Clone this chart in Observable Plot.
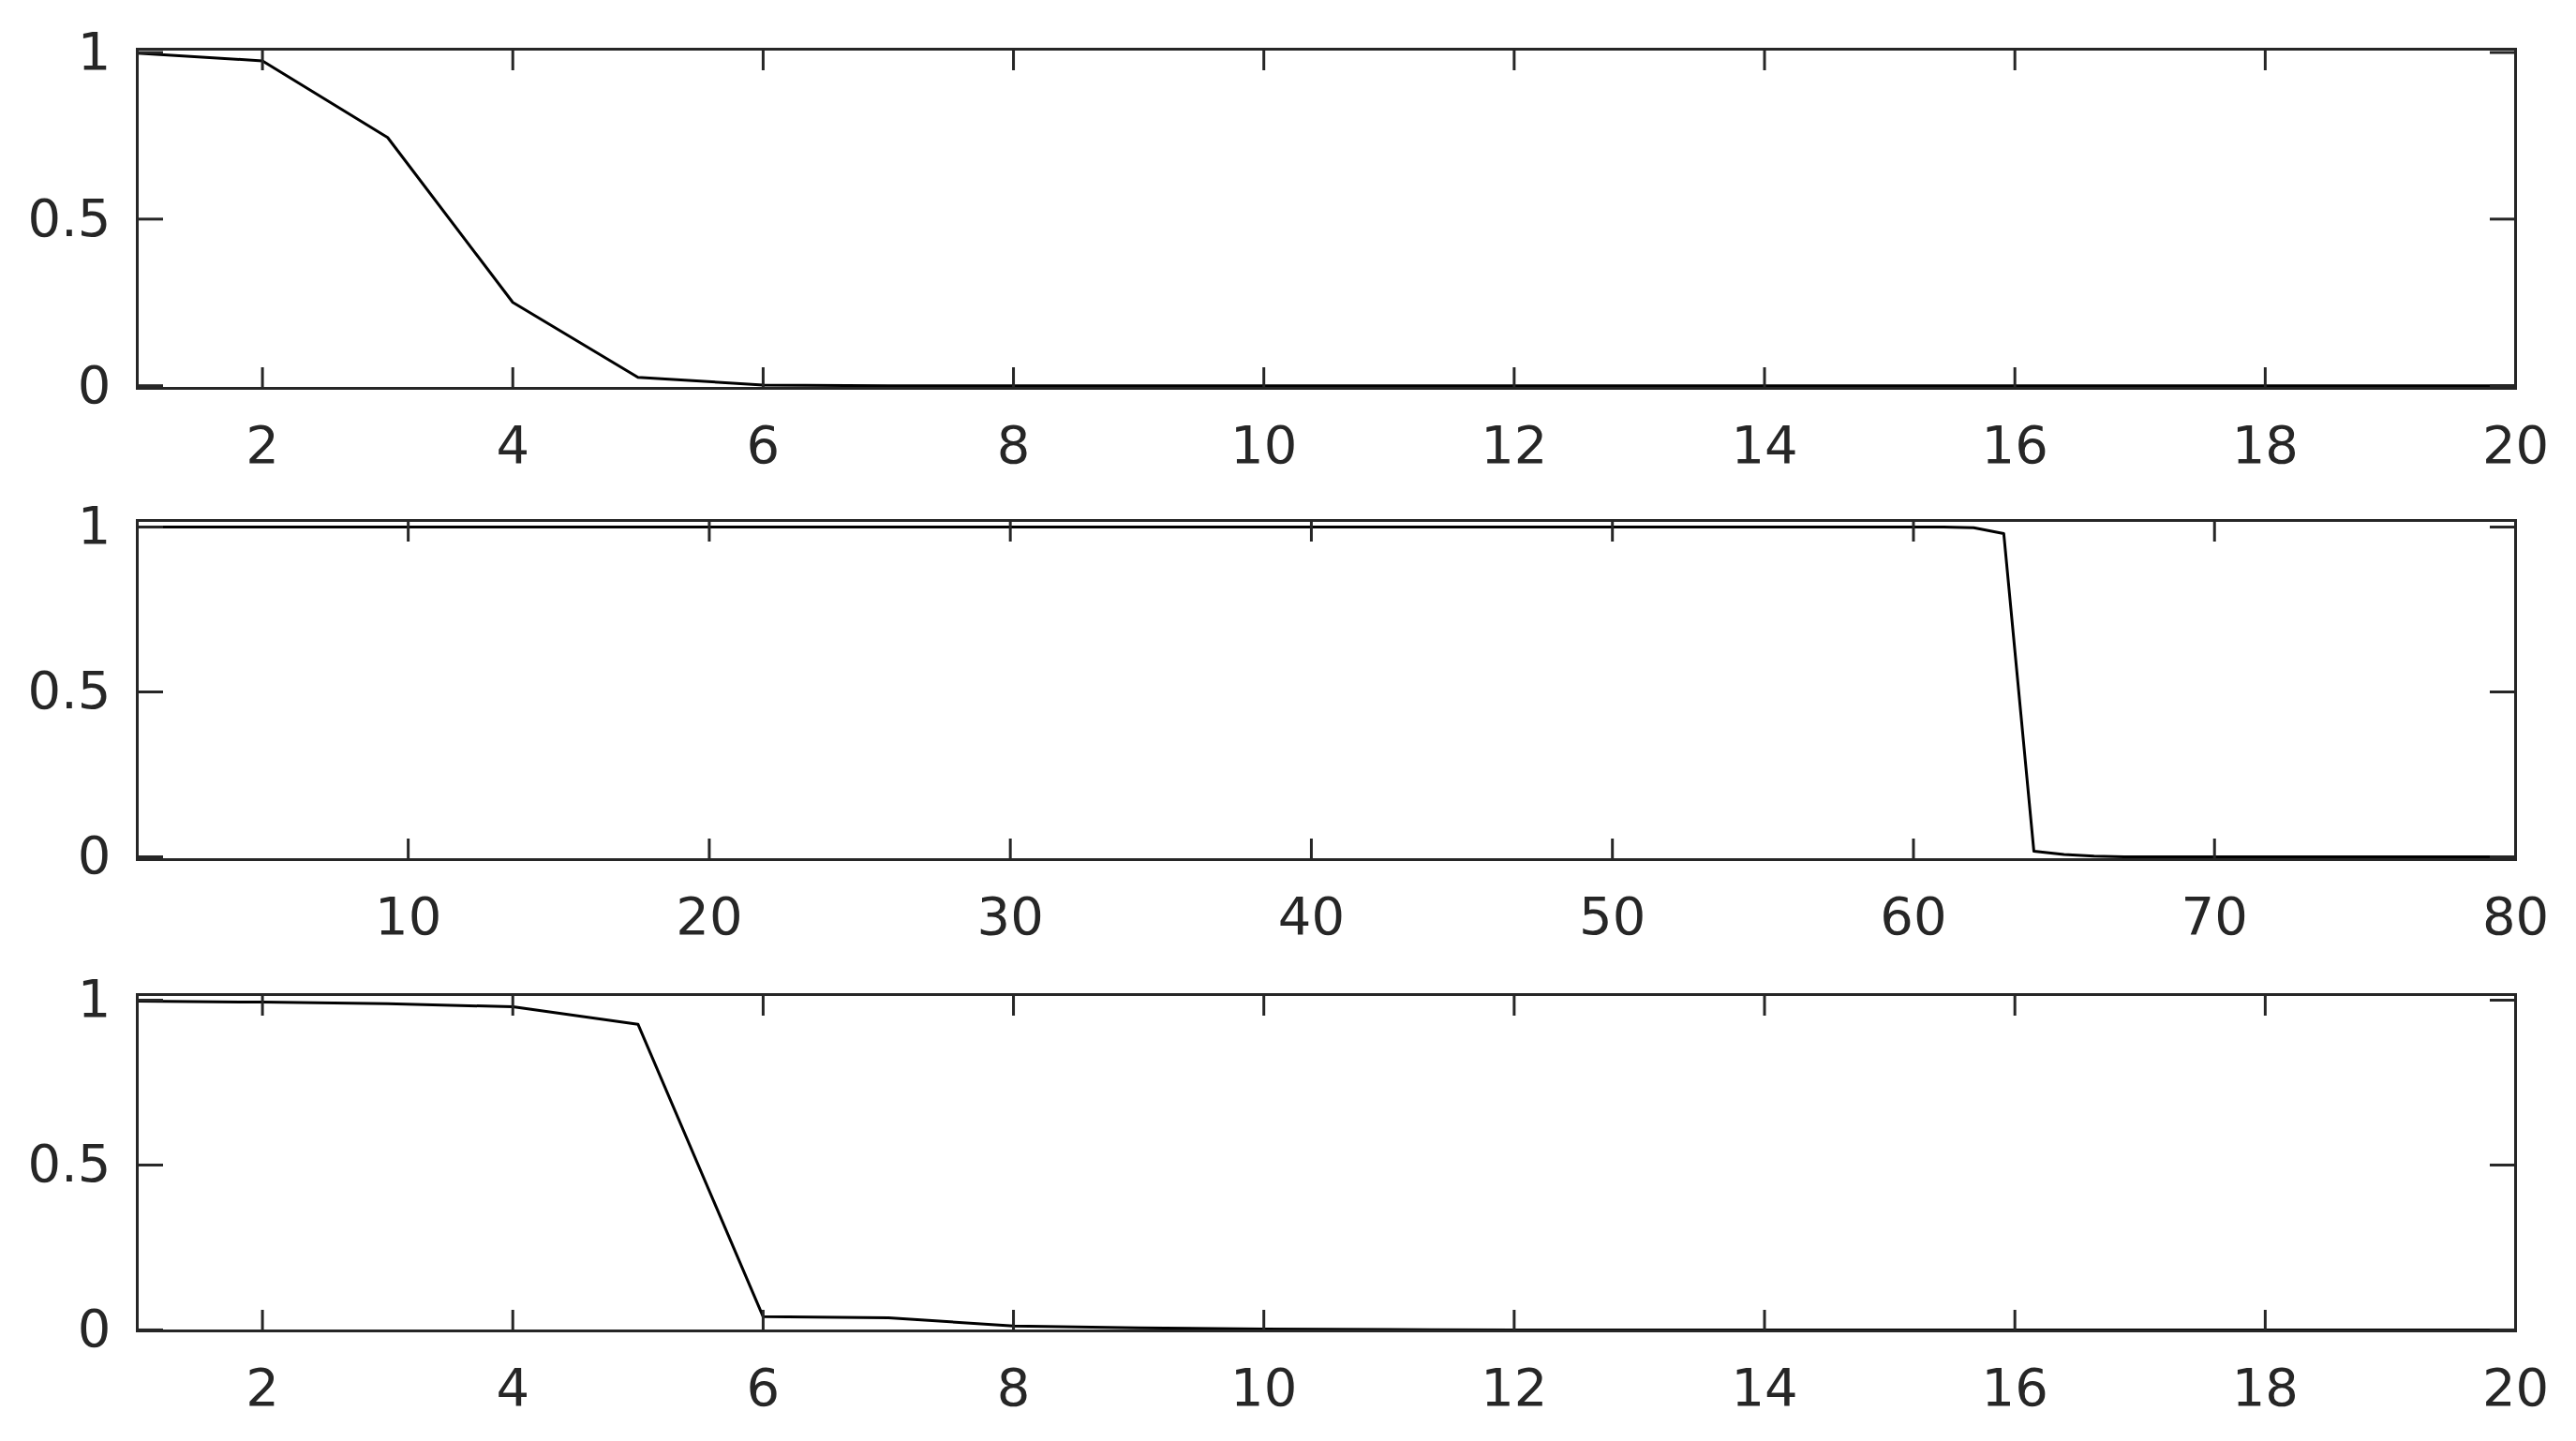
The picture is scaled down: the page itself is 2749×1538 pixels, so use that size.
<!DOCTYPE html>
<html><head><meta charset="utf-8">
<script src="https://cdn.jsdelivr.net/npm/d3@7"></script>
<script src="https://cdn.jsdelivr.net/npm/@observablehq/plot@0.6"></script>
<style>html,body{margin:0;padding:0;background:#fff;} #chart svg{display:block;}</style>
</head><body><div id="chart"></div>
<script>
// Panel 1
const x1 = [1,2,3,4,5,6,7,8,9,10,11,12,13,14,15,16,17,18,19,20];
const y1 = [0.998,0.975,0.745,0.25,0.025,0.002,0,0,0,0,0,0,0,0,0,0,0,0,0,0];
// Panel 2
const x2 = [1,2,3,4,5,6,7,8,9,10,11,12,13,14,15,16,17,18,19,20,
            21,22,23,24,25,26,27,28,29,30,31,32,33,34,35,36,37,38,39,40,
            41,42,43,44,45,46,47,48,49,50,51,52,53,54,55,56,57,58,59,60,
            61,62,63,64,65,66,67,68,69,70,71,72,73,74,75,76,77,78,79,80];
const y2 = [1,1,1,1,1,1,1,1,1,1,1,1,1,1,1,1,1,1,1,1,
            1,1,1,1,1,1,1,1,1,1,1,1,1,1,1,1,1,1,1,1,
            1,1,1,1,1,1,1,1,1,1,1,1,1,1,1,1,1,1,1,1,
            1,0.998,0.98,0.017,0.007,0.002,0,0,0,0,0,0,0,0,0,0,0,0,0,0];
// Panel 3
const x3 = [1,2,3,4,5,6,7,8,9,10,11,12,13,14,15,16,17,18,19,20];
const y3 = [0.997,0.994,0.989,0.98,0.927,0.04,0.037,0.012,0.006,0.003,0.001,0,0,0,0,0,0,0,0,0];

const xTicks1 = [2,4,6,8,10,12,14,16,18,20];
const xTicks2 = [10,20,30,40,50,60,70,80];
const xTicks3 = [2,4,6,8,10,12,14,16,18,20];
const yTicks = [0,0.5,1];

const AX = "#262626";
function panel({xs, ys, xDomain, yDomain, xTicks, height, marginTop, marginBottom}) {
  const data = xs.map((x, i) => ({x, y: ys[i]}));
  const blank = () => "";
  return Plot.plot({
    width: 2749, height, marginLeft: 146, marginRight: 65, marginTop, marginBottom,
    style: {fontFamily: "DejaVu Sans", fontSize: "56px", color: AX, background: "white", overflow: "visible"},
    x: {domain: xDomain},
    y: {domain: yDomain},
    marks: [
      Plot.line(data, {x: "x", y: "y", stroke: "#000", strokeWidth: 3}),
      Plot.axisX(xTicks, {anchor: "bottom", tickSize: -22, tickFormat: blank, label: null, stroke: AX, strokeWidth: 3}),
      Plot.axisX(xTicks, {anchor: "top", tickSize: -22, tickFormat: blank, label: null, stroke: AX, strokeWidth: 3}),
      Plot.axisX(xTicks, {anchor: "bottom", tickSize: 0, tickPadding: 40, label: null, tickFormat: d => String(d), fill: AX}),
      Plot.axisY(yTicks, {anchor: "left", tickSize: -28, tickFormat: blank, label: null, stroke: AX, strokeWidth: 3}),
      Plot.axisY(yTicks, {anchor: "right", tickSize: -28, tickFormat: blank, label: null, stroke: AX, strokeWidth: 3}),
      Plot.axisY(yTicks, {anchor: "left", tickSize: 0, tickPadding: 28, label: null, tickFormat: d => String(d), fill: AX}),
      Plot.frame({stroke: AX, strokeWidth: 3})
    ]
  });
}

const root = document.getElementById("chart");
root.append(panel({xs: x1, ys: y1, xDomain: [1, 20], yDomain: [-0.008, 1.01], xTicks: xTicks1, height: 500, marginTop: 52, marginBottom: 86}));
root.append(panel({xs: x2, ys: y2, xDomain: [1, 80], yDomain: [-0.0085, 1.02], xTicks: xTicks2, height: 505, marginTop: 55, marginBottom: 88}));
root.append(panel({xs: x3, ys: y3, xDomain: [1, 20], yDomain: [-0.003, 1.017], xTicks: xTicks3, height: 533, marginTop: 56, marginBottom: 118}));
</script>
</body></html>
